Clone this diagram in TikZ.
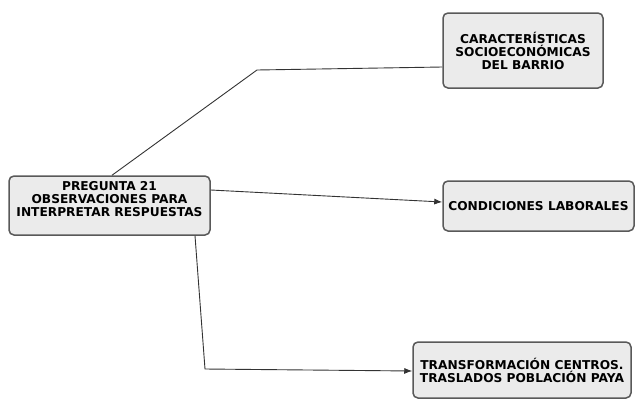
\documentclass[tikz,border=0pt]{standalone}
\usepackage{fontspec}
\newfontfamily\cajafont{DejaVu Sans}
\usetikzlibrary{arrows.meta}
\definecolor{fondocaja}{HTML}{EBEBEB}
\definecolor{bordecaja}{HTML}{595959}
\definecolor{linea}{HTML}{333333}
\tikzset{
  caja/.style={draw=bordecaja, fill=fondocaja, line width=1.5pt, rounded corners=5pt,
    align=center, inner sep=2pt, text=black,
    font=\cajafont\bfseries\fontsize{12.2}{13}\selectfont},
  enlace/.style={draw=linea, line width=0.9pt},
  flecha/.style={enlace, -{Latex[length=8pt,width=6pt]}}
}
\begin{document}
\begin{tikzpicture}[x=1pt,y=-1pt]
      \useasboundingbox (0,0) rectangle (635,400);
      \draw (109.5,205.5) node[caja, minimum width=201pt, minimum height=59pt, text depth=14pt] (preg) {PREGUNTA 21\\OBSERVACIONES PARA\\INTERPRETAR RESPUESTAS};
      \draw (523,50.5) node[caja, minimum width=160pt, minimum height=75pt] (barrio) {CARACTERÍSTICAS\\SOCIOECONÓMICAS\\DEL BARRIO};
      \draw (538.5,206) node[caja, minimum width=191pt, minimum height=50pt] (labor) {CONDICIONES LABORALES};
      \draw (522,370) node[caja, minimum width=218pt, minimum height=56pt] (centros) {TRANSFORMACIÓN CENTROS.\\TRASLADOS POBLACIÓN PAYA};
      \coordinate (codo1) at (257,70);
      \coordinate (codo2) at (205,369);
      \draw[enlace] ([xshift=2.5pt]preg.north) -- (codo1) -- ([yshift=-16.5pt]barrio.west);
      \draw[flecha] ([yshift=15.5pt]preg.east) -- ([yshift=4pt]labor.west);
      \draw[flecha] ([xshift=85.5pt]preg.south) -- (codo2) -- ([yshift=-1pt]centros.west);
    \end{tikzpicture}
\end{document}
